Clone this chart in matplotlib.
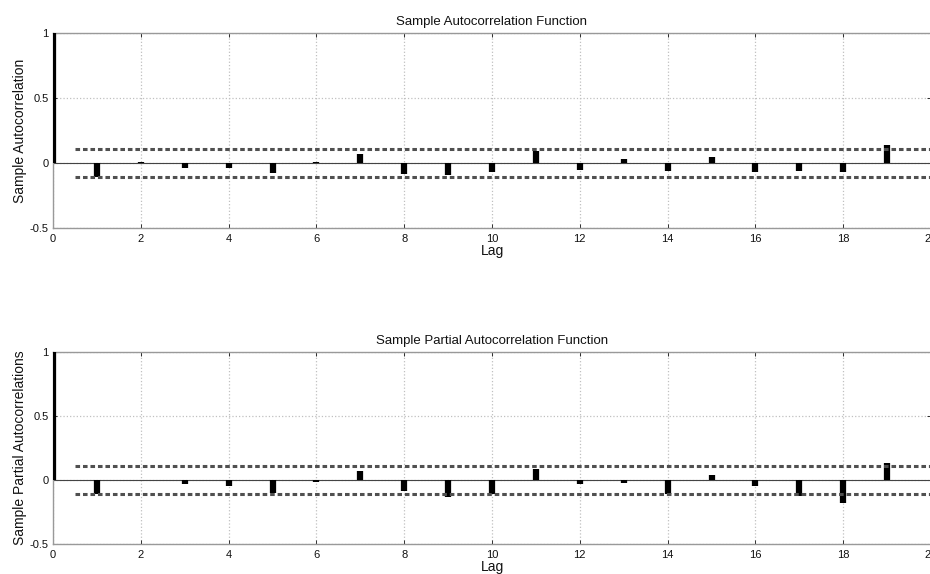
import matplotlib
matplotlib.use("Agg")
import matplotlib.pyplot as plt
import numpy as np

plt.rcParams['font.family'] = ['Liberation Sans', 'DejaVu Sans']

lags = list(range(0, 21))
acf_values = [1.0, -0.11, 0.005, -0.035, -0.04, -0.08, 0.005, 0.07, -0.085, -0.09,
              -0.07, 0.095, -0.05, 0.03, -0.06, 0.045, -0.07, -0.06, -0.07, 0.14, -0.005]
pacf_values = [1.0, -0.11, -0.003, -0.035, -0.05, -0.10, -0.015, 0.073, -0.083, -0.13,
               -0.107, 0.083, -0.035, -0.02, -0.107, 0.04, -0.045, -0.125, -0.18, 0.13, 0.03]
acf_bound = 0.105
pacf_bound = 0.107
titles = ["Sample Autocorrelation Function", "Sample Partial Autocorrelation Function"]
ylabels = ["Sample Autocorrelation", "Sample Partial Autocorrelations"]
xticks = list(range(0, 21, 2))
yticks = [-0.5, 0, 0.5, 1]
ytick_labels = ["-0.5", "0", "0.5", "1"]

W, H = 930, 574
fig = plt.figure(figsize=(W / 100, H / 100), dpi=100)

# axes boxes in pixels: left, top, right, bottom
boxes = [(53, 33, 931, 228), (53, 352, 931, 544)]
series = [(acf_values, acf_bound), (pacf_values, pacf_bound)]

for (l, t, r, b), (vals, bound), title, ylab in zip(boxes, series, titles, ylabels):
    ax = fig.add_axes([l / W, 1 - b / H, (r - l) / W, (b - t) / H])
    ax.set_xlim(0, 20)
    ax.set_ylim(-0.5, 1)
    ax.grid(True, color='#c0c0c0', linestyle=':', linewidth=0.9)
    ax.set_axisbelow(True)
    ax.axhline(0, color='#444444', linewidth=0.8, zorder=2)
    ax.vlines(lags, 0, vals, colors='black', linewidth=4.5, zorder=3)
    for yb in (bound, -bound):
        ax.plot([0.5, 20], [yb, yb], color='#505050', linewidth=2.2,
                dashes=(1.5, 0.95), zorder=4, dash_capstyle='butt')
    ax.set_xticks(xticks)
    ax.set_yticks(yticks)
    ax.set_yticklabels(ytick_labels)
    ax.tick_params(direction='in', length=3, labelsize=8, colors='#111111', width=0.6,
                   top=True, right=True)
    ax.tick_params(axis='x', pad=4)
    ax.tick_params(axis='y', pad=3)
    for s in ax.spines.values():
        s.set_color('#999999')
        s.set_linewidth(1.0)
    ax.set_title(title, fontsize=9.5, color='#111111', pad=6)
    ax.set_xlabel("Lag", fontsize=10, color='#111111', labelpad=0)
    ax.set_ylabel(ylab, fontsize=10, color='#111111', labelpad=2)

fig.savefig("out.png", dpi=100)
